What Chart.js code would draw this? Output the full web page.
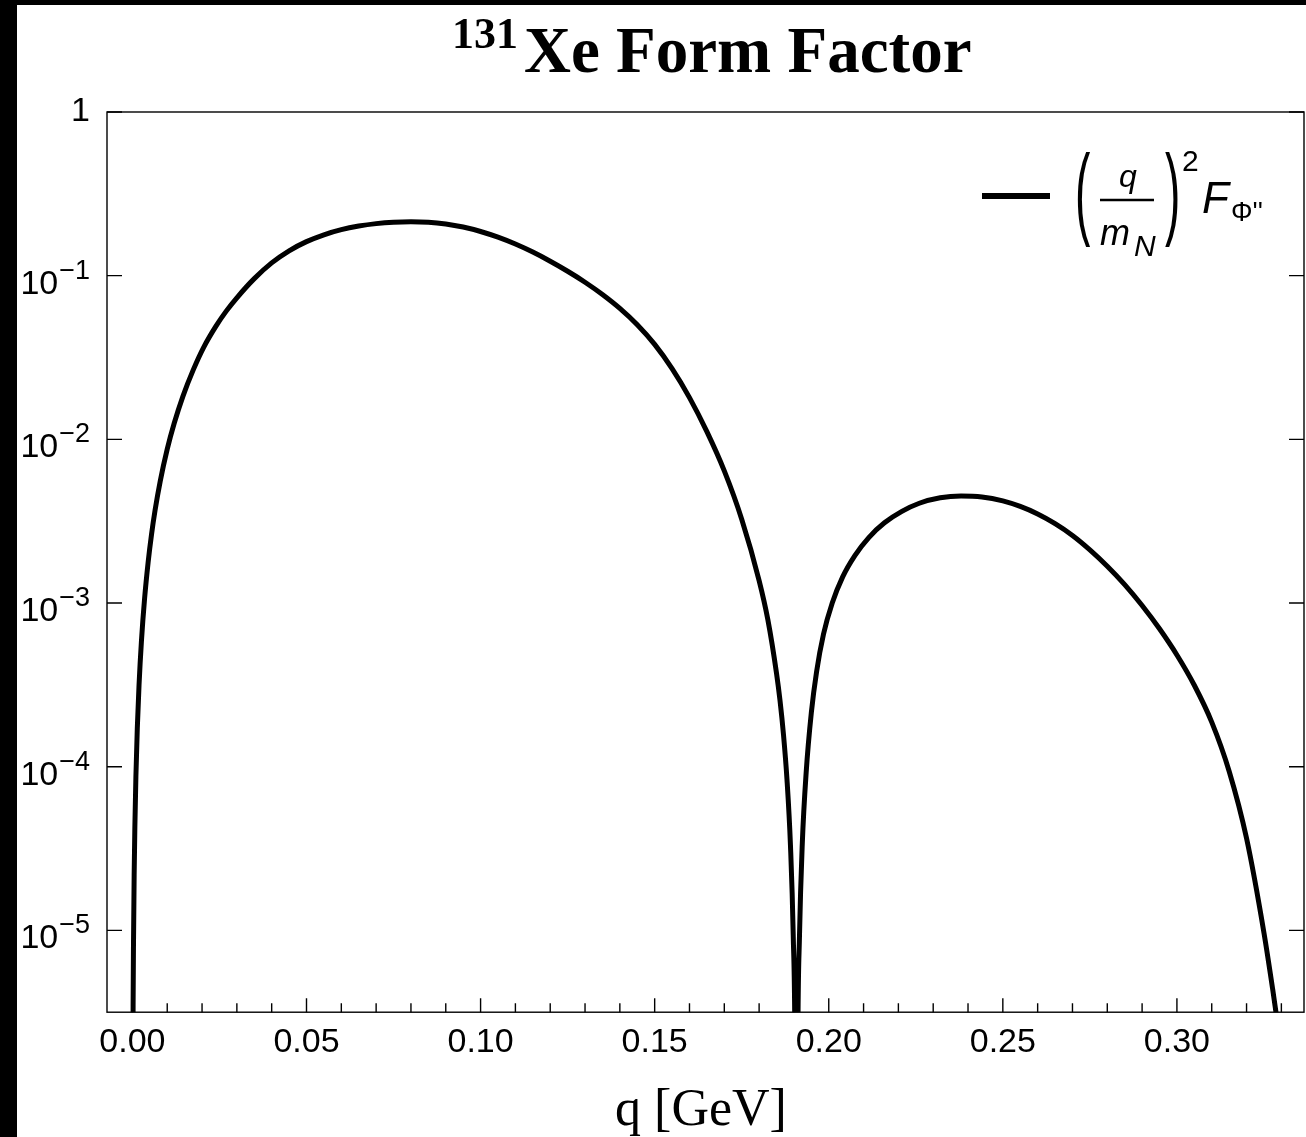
<!DOCTYPE html>
<html>
<head>
<meta charset="utf-8">
<script src="https://cdn.jsdelivr.net/npm/chart.js@4"></script>
<style>
  html, body { margin: 0; padding: 0; background: #fff; }
  canvas { display: block; }
</style>
</head>
<body>
<canvas id="ffChart" width="1306" height="1137"></canvas>
<script>
// q [GeV] and (q/mN)^2 F_Phi''
const qValues = [
  0.0001, 0.0002, 0.0003, 0.0005, 0.0007, 0.0010, 0.0014, 0.0019, 0.0026, 0.0035,
  0.0045, 0.0055, 0.0065, 0.0080, 0.0100, 0.0120, 0.0145, 0.0175, 0.0205, 0.0240,
  0.0270, 0.0300, 0.0350, 0.0400, 0.0450, 0.0500, 0.0550, 0.0600, 0.0650, 0.0700,
  0.0750, 0.0800, 0.0850, 0.0900, 0.0950, 0.1000, 0.1050, 0.1100, 0.1150, 0.1200,
  0.1250, 0.1300, 0.1350, 0.1400, 0.1450, 0.1500, 0.1550, 0.1600, 0.1650, 0.1700,
  0.1750, 0.1800, 0.1825, 0.1850, 0.1860, 0.1870, 0.1880, 0.1890, 0.1898, 0.1903,
  0.1907, 0.1911, 0.1916, 0.1924, 0.1935, 0.1950, 0.1965, 0.1985, 0.2010, 0.2040,
  0.2075, 0.2115, 0.2160, 0.2210, 0.2260, 0.2320, 0.2380, 0.2440, 0.2500, 0.2550,
  0.2600, 0.2650, 0.2700, 0.2750, 0.2800, 0.2850, 0.2900, 0.2950, 0.3000, 0.3050,
  0.3100, 0.3150, 0.3200, 0.3250, 0.3275, 0.3300
];
const ffValues = [
  8.7e-7, 3.48e-6, 7.83e-6, 2.18e-5, 4.27e-5, 8.71e-5, 1.71e-4, 3.15e-4, 5.89e-4, 1.067e-3,
  1.762e-3, 2.636e-3, 3.68e-3, 5.57e-3, 8.71e-3, 0.01253, 0.01832, 0.02667, 0.03664, 0.04920,
  0.06095, 0.07328, 0.09594, 0.1197, 0.1419, 0.1614, 0.1778, 0.1910, 0.2009, 0.2080,
  0.2123, 0.2138, 0.2123, 0.2070, 0.1982, 0.1862, 0.1718, 0.1560, 0.1393, 0.1225,
  0.1064, 0.09120, 0.07674, 0.06310, 0.05012, 0.03802, 0.02704, 0.01799, 0.01114, 6.412e-3,
  3.251e-3, 1.371e-3, 7.93e-4, 3.715e-4, 2.535e-4, 1.570e-4, 8.375e-5, 3.319e-5, 9.29e-6, 1.837e-6,
  1e-8, 1.86e-6, 9.33e-6, 3.39e-5, 9.12e-5, 2.14e-4, 3.80e-4, 6.46e-4, 1.0e-3, 1.445e-3,
  1.95e-3, 2.512e-3, 3.09e-3, 3.63e-3, 4.07e-3, 4.395e-3, 4.508e-3, 4.446e-3, 4.207e-3, 3.89e-3,
  3.50e-3, 3.055e-3, 2.588e-3, 2.113e-3, 1.679e-3, 1.296e-3, 9.66e-4, 6.96e-4, 4.815e-4, 3.145e-4,
  1.873e-4, 9.39e-5, 3.65e-5, 9.66e-6, 4.37e-6, 1.86e-6
];

const xTicks = [0, 0.05, 0.10, 0.15, 0.20, 0.25, 0.30];
const xMinorTicks = [0.01, 0.02, 0.03, 0.04, 0.06, 0.07, 0.08, 0.09, 0.11, 0.12, 0.13, 0.14,
  0.16, 0.17, 0.18, 0.19, 0.21, 0.22, 0.23, 0.24, 0.26, 0.27, 0.28, 0.29, 0.31, 0.32, 0.33];
const yTicks = [1, 1e-1, 1e-2, 1e-3, 1e-4, 1e-5];
const yTickExps = ['0', '\u22121', '\u22122', '\u22123', '\u22124', '\u22125'];

const points = qValues.map((q, i) => ({ x: q, y: ffValues[i] }));

// frame, inward ticks, y labels, titles and legend
const decor = {
  id: 'decor',
  beforeDraw(chart) {
    const ctx = chart.ctx;
    ctx.save();
    ctx.fillStyle = '#fff';
    ctx.fillRect(0, 0, chart.width, chart.height);
    ctx.fillStyle = '#000';
    ctx.fillRect(0, 0, 17, chart.height);
    ctx.fillRect(0, 0, chart.width, 5);
    ctx.restore();
  },
  afterDraw(chart) {
    const ctx = chart.ctx;
    const a = chart.chartArea;
    const x = chart.scales.x, y = chart.scales.y;
    ctx.save();
    ctx.strokeStyle = '#000';
    ctx.fillStyle = '#000';
    ctx.lineWidth = 1.4;
    ctx.strokeRect(a.left, a.top, a.right - a.left, a.bottom - a.top);

    ctx.beginPath();
    yTicks.forEach(v => {
      const py = y.getPixelForValue(v);
      ctx.moveTo(a.left, py); ctx.lineTo(a.left + 15, py);
      ctx.moveTo(a.right, py); ctx.lineTo(a.right - 15, py);
    });
    xTicks.forEach(v => {
      const px = x.getPixelForValue(v);
      ctx.moveTo(px, a.bottom); ctx.lineTo(px, a.bottom - 14);
    });
    xMinorTicks.forEach(v => {
      const px = x.getPixelForValue(v);
      ctx.moveTo(px, a.bottom); ctx.lineTo(px, a.bottom - 9);
    });
    ctx.stroke();

    // y labels 10^n
    ctx.textAlign = 'right';
    ctx.textBaseline = 'alphabetic';
    yTicks.forEach((v, i) => {
      const py = y.getPixelForValue(v);
      if (yTickExps[i] === '0') {
        ctx.font = '34px "Liberation Sans"';
        ctx.fillText('1', 90, py + 9);
        return;
      }
      ctx.font = '27px "Liberation Sans"';
      const w = ctx.measureText(yTickExps[i]).width;
      ctx.fillText(yTickExps[i], 90, py + 3);
      ctx.font = '34px "Liberation Sans"';
      ctx.fillText('10', 89 - w, py + 18);
    });

    // axis title
    ctx.textAlign = 'center';
    ctx.font = '52px "Liberation Serif"';
    ctx.fillText('q [GeV]', 701, 1125);

    // title
    ctx.textAlign = 'left';
    ctx.font = 'bold 44px "Liberation Serif"';
    ctx.fillText('131', 452, 48);
    ctx.font = 'bold 65px "Liberation Serif"';
    ctx.fillText('Xe Form Factor', 524, 72);

    // legend
    ctx.lineWidth = 6;
    ctx.beginPath();
    ctx.moveTo(982, 196); ctx.lineTo(1050, 196);
    ctx.stroke();

    ctx.font = '46px "Liberation Sans"';
    ctx.save();
    ctx.translate(1075, 200);
    ctx.scale(1, 2.2);
    ctx.fillText('(', 0, 12);
    ctx.restore();
    ctx.save();
    ctx.translate(1165, 200);
    ctx.scale(1, 2.2);
    ctx.fillText(')', 0, 12);
    ctx.restore();

    ctx.font = 'italic 32px "Liberation Sans"';
    ctx.textAlign = 'center';
    ctx.fillText('q', 1128, 187);
    ctx.textAlign = 'left';
    ctx.font = 'italic 36px "Liberation Sans"';
    ctx.fillText('m', 1100, 245);
    ctx.font = 'italic 30px "Liberation Sans"';
    ctx.fillText('N', 1134, 256);
    ctx.lineWidth = 2.5;
    ctx.beginPath();
    ctx.moveTo(1100, 200); ctx.lineTo(1154, 200);
    ctx.stroke();

    ctx.font = '30px "Liberation Sans"';
    ctx.fillText('2', 1182, 171);
    ctx.font = 'italic 44px "Liberation Sans"';
    ctx.fillText('F', 1202, 213);
    ctx.font = '27px "Liberation Sans"';
    ctx.fillText('\u03A6\'\'', 1231, 221);
    ctx.restore();
  }
};

new Chart(document.getElementById('ffChart').getContext('2d'), {
  type: 'line',
  data: {
    datasets: [{
      data: points,
      borderColor: '#000',
      borderWidth: 5,
      pointRadius: 0,
      fill: false,
      cubicInterpolationMode: 'monotone',
      clip: 0
    }]
  },
  options: {
    responsive: false,
    animation: false,
    layout: { padding: { left: 107, top: 112, right: 2, bottom: 64 } },
    scales: {
      x: {
        type: 'linear',
        min: -0.0073,
        max: 0.3365,
        grid: { display: false, drawTicks: false },
        border: { display: false },
        afterBuildTicks: s => { s.ticks = xTicks.map(v => ({ value: v })); },
        ticks: {
          color: '#000',
          font: { family: 'Liberation Sans', size: 34 },
          padding: 10,
          maxRotation: 0,
          autoSkip: false,
          callback: v => v.toFixed(2)
        }
      },
      y: {
        type: 'logarithmic',
        min: Math.pow(10, -5.5),
        max: 1,
        display: false
      }
    },
    plugins: {
      legend: { display: false },
      tooltip: { enabled: false }
    }
  },
  plugins: [decor]
});
</script>
</body>
</html>
